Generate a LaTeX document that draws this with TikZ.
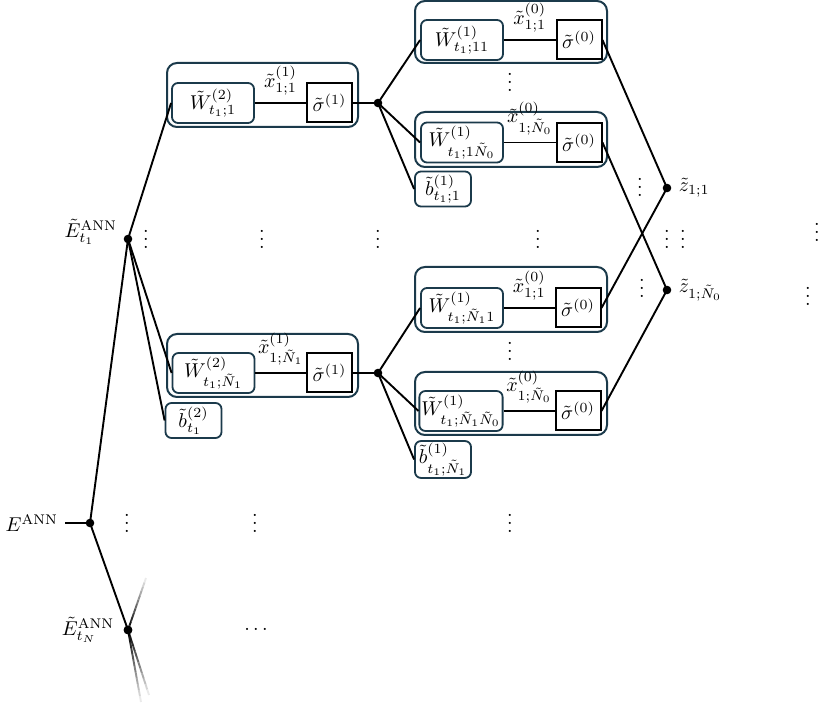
\documentclass[tikz,border=0pt]{standalone}
\usetikzlibrary{calc}
\definecolor{bx}{HTML}{1B3A4B}
\begin{document}
\begin{tikzpicture}[x=0.5pt,y=-0.5pt,
  dot/.style={circle,fill=black,inner sep=0pt,minimum size=4.3pt},
  wbox/.style={draw=bx,line width=0.9pt,rounded corners=3pt,minimum width=41pt,minimum height=20pt,inner sep=1pt},
  sbox/.style={draw=black,line width=1pt,minimum width=22.5pt,minimum height=19.5pt,inner sep=1pt},
  bbox/.style={draw=bx,line width=0.9pt,rounded corners=3pt,minimum width=28pt,minimum height=17.5pt,inner sep=1pt},
  obox/.style={draw=bx,line width=1pt,rounded corners=5pt,inner sep=0pt},
  conn/.style={line width=0.95pt},
  vd/.style={anchor=base,inner sep=0pt},
]
\useasboundingbox (0,0) rectangle (820,705);

% outer containers
\node[obox,minimum width=95.5pt,minimum height=32pt] (O2a) at (262.5,95) {};
\node[obox,minimum width=95.5pt,minimum height=31.5pt] (O2b) at (262.5,365.5) {};
\node[obox,minimum width=96pt,minimum height=31pt] (O1) at (511,32) {};
\node[obox,minimum width=96pt,minimum height=27.5pt] (O2) at (511,139.5) {};
\node[obox,minimum width=96pt,minimum height=32.5pt] (O3) at (511,299.5) {};
\node[obox,minimum width=96pt,minimum height=31.5pt] (O4) at (511,403.5) {};

% second-layer nodes
\node[wbox] (W2a) at (213,103) {$\tilde W^{(2)}_{t_1;1}$};
\node[sbox] (S2a) at (329.5,103) {$\tilde\sigma^{(1)}$};
\node[wbox] (W2b) at (213.5,373) {$\tilde W^{(2)}_{t_1;\tilde N_1}$};
\node[sbox] (S2b) at (329.5,373) {$\tilde\sigma^{(1)}$};
\node[bbox] (b2) at (193.5,420.5) {$\tilde b^{(2)}_{t_1}$};

% first-layer nodes
\node[wbox] (W1) at (462,40) {$\tilde W^{(1)}_{t_1;11}$};
\node[sbox] (S1) at (579,40) {$\tilde\sigma^{(0)}$};
\node[wbox] (W2) at (462,142.5) {$\tilde W^{(1)}_{t_1;1\tilde N_0}$};
\node[sbox] (S2) at (579,142.5) {$\tilde\sigma^{(0)}$};
\node[bbox] (b1a) at (443,189) {$\tilde b^{(1)}_{t_1;1}$};
\node[wbox] (W3) at (462,308) {$\tilde W^{(1)}_{t_1;\tilde N_1 1}$};
\node[sbox] (S3) at (578,308) {$\tilde\sigma^{(0)}$};
\node[wbox] (W4) at (461,411) {$\tilde W^{(1)}_{t_1;\tilde N_1\tilde N_0}$};
\node[sbox] (S4) at (578,411) {$\tilde\sigma^{(0)}$};
\node[bbox] (b1b) at (443,459.5) {$\tilde b^{(1)}_{t_1;\tilde N_1}$};

% junction dots
\node[dot] (E) at (90,523) {};
\node[dot] (Et1) at (128,239) {};
\node[dot] (EtN) at (128,630) {};
\node[dot] (D1a) at (378,103) {};
\node[dot] (D1b) at (378,373) {};
\node[dot] (z11) at (667,188) {};
\node[dot] (zN) at (667,290) {};

% labels
\node[anchor=east] (Elab) at (65,523) {$E^{\mathrm{ANN}}$};
\node[anchor=east] (Et1lab) at (124,232) {$\tilde E^{\mathrm{ANN}}_{t_1}$};
\node[left=1pt] (EtNlab) at (EtN.west) {$\tilde E^{\mathrm{ANN}}_{t_N}$};
\node[right] (z11lab) at (z11.east) {$\tilde z_{1;1}$};
\node[right] (zNlab) at (zN.east) {$\tilde z_{1;\tilde N_0}$};

% fading ends
\coordinate (fu) at (146,578);
\coordinate (fd1) at (149,695);
\coordinate (fd2) at (141,702);

% connectors
\draw[conn] (Elab.east) -- (E.center);
\draw[conn] (E.center) -- (Et1.center);
\draw[conn] (E.center) -- (EtN.center);
\draw[conn] (Et1.center) -- (W2a.west);
\draw[conn] (Et1.center) -- (W2b.west);
\draw[conn] (Et1.center) -- (b2.west);
\draw[conn] (W2a) -- node[above] {$\tilde x^{(1)}_{1;1}$} (S2a);
\draw[conn] (W2b) -- node[above] {$\tilde x^{(1)}_{1;\tilde N_1}$} (S2b);
\draw[conn] (S2a.east) -- (D1a.center);
\draw[conn] (S2b.east) -- (D1b.center);
\draw[conn] (D1a.center) -- (W1.west);
\draw[conn] (D1a.center) -- (W2.west);
\draw[conn] (D1a.center) -- (b1a.west);
\draw[conn] (D1b.center) -- (W3.west);
\draw[conn] (D1b.center) -- (W4.west);
\draw[conn] (D1b.center) -- (b1b.west);
\draw[conn] (W1) -- node[above] {$\tilde x^{(0)}_{1;1}$} (S1);
\draw[conn] (W2) -- node[above] {$\tilde x^{(0)}_{1;\tilde N_0}$} (S2);
\draw[conn] (W3) -- node[above] {$\tilde x^{(0)}_{1;1}$} (S3);
\draw[conn] (W4) -- node[above] {$\tilde x^{(0)}_{1;\tilde N_0}$} (S4);
\draw[conn] (S1.east) -- (z11.center);
\draw[conn] (S3.east) -- (z11.center);
\draw[conn] (S2.east) -- (zN.center);
\draw[conn] (S4.east) -- (zN.center);

% fading connectors from E_tN
\foreach \tgt in {fu,fd1,fd2}{
  \foreach \i in {0,...,11}{
    \pgfmathsetmacro\shade{100*(1-\i/12)}
    \draw[conn,black!\shade,line cap=butt] ($(EtN.center)!{\i/12}!(\tgt)$) -- ($(EtN.center)!{(\i+1)/12}!(\tgt)$);
  }
}
\node[dot] at (EtN) {};

% ellipses
\node[vd] (v1) at (146,249) {$\vdots$};
\node[vd] (v2) at (262,249) {$\vdots$};
\node[vd] (v3) at (378,249) {$\vdots$};
\node[vd] (v4) at (538,249) {$\vdots$};
\node[vd] (v5) at (667,249) {$\vdots$};
\node[vd] (v6) at (683,249) {$\vdots$};
\node[vd] (v7) at (640,197) {$\vdots$};
\node[vd] (v8) at (642,298) {$\vdots$};
\node[vd] (v9) at (817,242) {$\vdots$};
\node[vd] (v10) at (808,306) {$\vdots$};
\node[vd] (v11) at (510,92) {$\vdots$};
\node[vd] (v12) at (510,361) {$\vdots$};
\node[vd] (v13) at (127,533) {$\vdots$};
\node[vd] (v14) at (255,533) {$\vdots$};
\node[vd] (v15) at (510,533) {$\vdots$};
\node[vd] (h1) at (256,631) {$\ldots$};
\end{tikzpicture}
\end{document}
